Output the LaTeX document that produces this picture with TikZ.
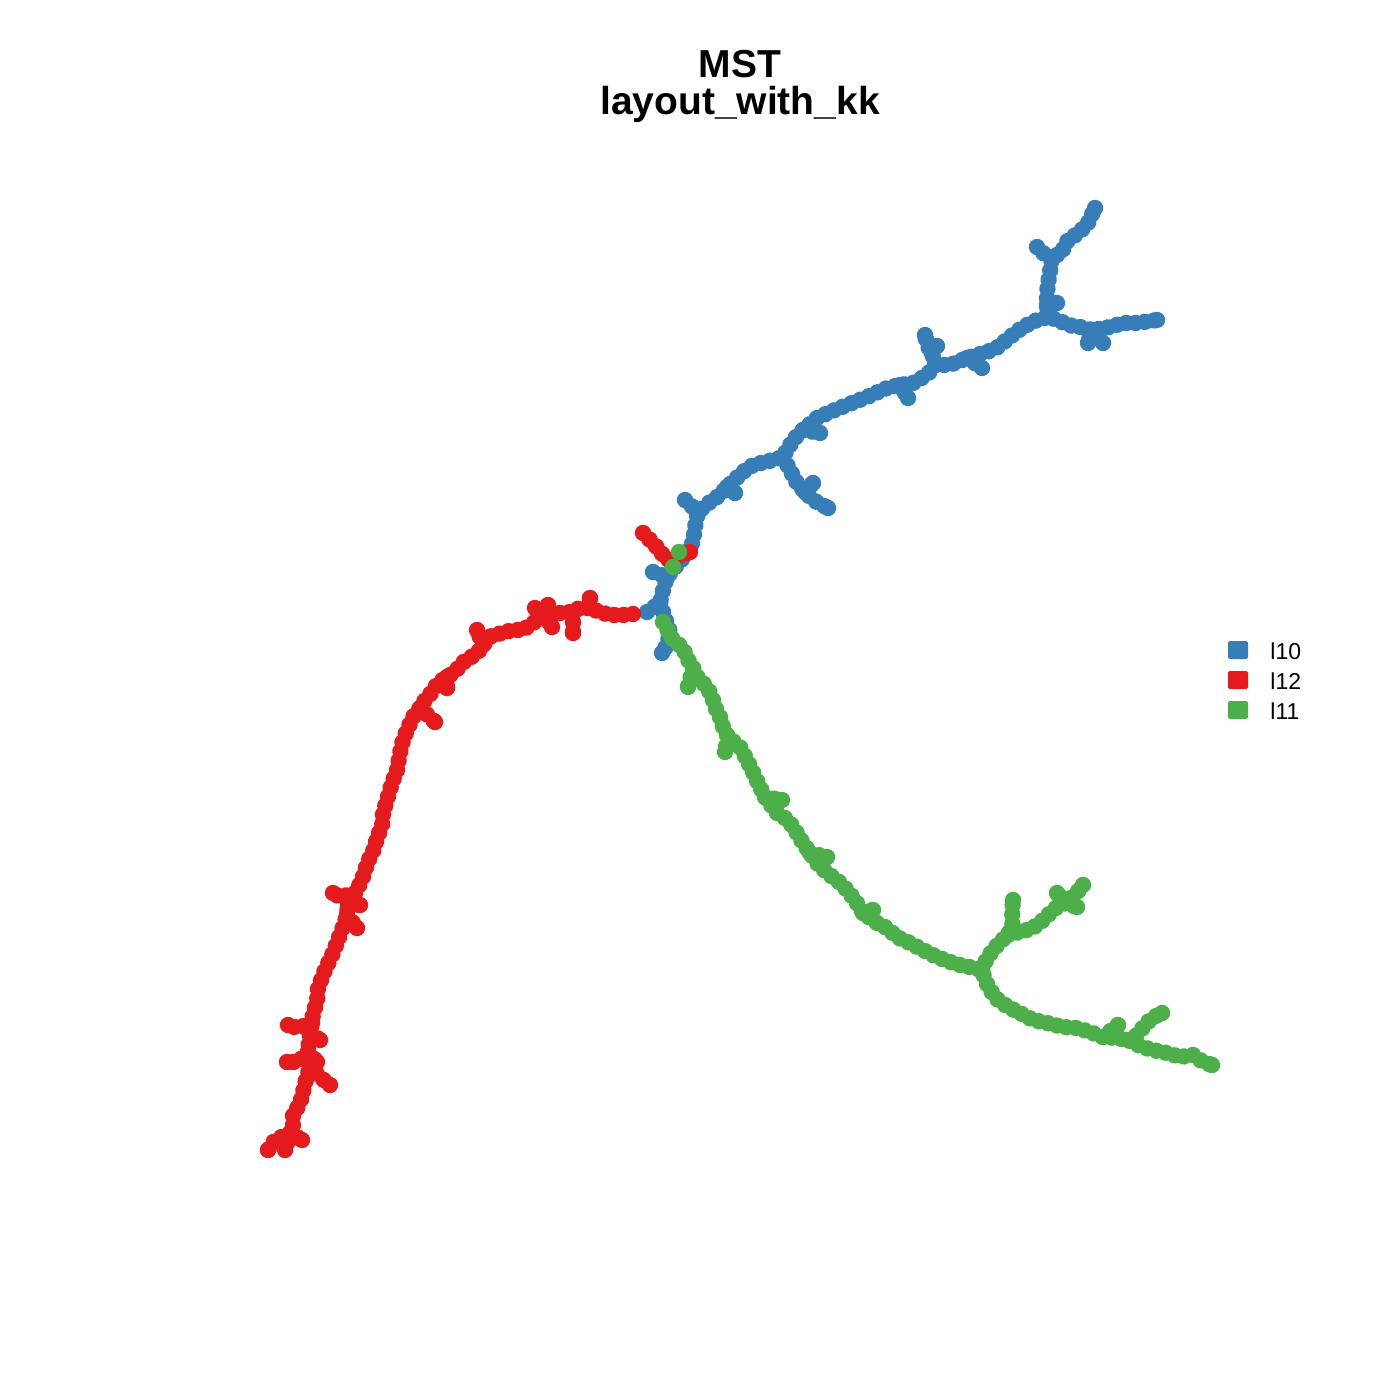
\documentclass[tikz,border=0pt]{standalone}
\usepackage{fontspec}
\setmainfont{Liberation Sans}
\usetikzlibrary{decorations.markings}
\definecolor{cblue}{HTML}{377EB8}
\definecolor{cred}{HTML}{E41A1C}
\definecolor{cgreen}{HTML}{4DAF4A}
\tikzset{
  bead/.style={line width=5.5pt, line cap=round, line join=round,
    decoration={markings,
      mark=between positions 0 and 1 step 4.7pt with {\fill circle[radius=4.1pt];},
      mark=at position 1 with {\fill circle[radius=4.1pt];}},
    postaction={decorate}},
  bb/.style={bead, color=cblue},
  rb/.style={bead, color=cred},
  gb/.style={bead, color=cgreen},
  legsq/.style={rounded corners=0.8pt},
  legtx/.style={anchor=west, font=\fontsize{11.5}{13}\selectfont, inner sep=0pt},
  ttl/.style={font=\bfseries\fontsize{19.5}{22}\selectfont, inner sep=0pt}
}
\begin{document}
\begin{tikzpicture}[x=0.5pt,y=-0.5pt]
\useasboundingbox (0,0) rectangle (1400,1400);
% title
\node[ttl] (t1) at (740,64) {MST};
\node[ttl] (t2) at (740,104) {layout\_with\_kk};
% ---------------- blue ----------------
\draw[bb] (647,612) -- (660,603) -- (663,590) -- (667,577) -- (683,558) -- (693,542) -- (695,527) -- (698,512) -- (710,502) -- (720,495) -- (727,487) -- (743,472) -- (753,465) -- (773,460) -- (783,457) -- (788,448) -- (795,438) -- (803,430) -- (817,418) -- (830,412) -- (847,405) -- (867,397) -- (887,388) -- (900,385) -- (913,383) -- (927,375) -- (935,365) -- (950,365) -- (967,358) -- (987,352) -- (998,347) -- (1010,337) -- (1023,327) -- (1037,320) -- (1048,317) -- (1058,320) -- (1068,325) -- (1080,327) -- (1092,330) -- (1110,327) -- (1123,323) -- (1137,323) -- (1157,320);
\draw[bb] (660,603) -- (665,618) -- (670,632) -- (667,645) -- (662,653);
\draw[bb] (653,572) -- (667,577);
\draw[bb] (685,500) -- (698,512);
\draw[bb] (727,487) -- (735,493);
\draw[bb] (783,457) -- (790,470) -- (797,483) -- (805,492) -- (813,500) -- (828,508);
\draw[bb] (805,492) -- (813,483);
\draw[bb] (803,430) -- (820,433);
\draw[bb] (900,385) -- (908,398);
\draw[bb] (935,365) -- (932,353) -- (927,345) -- (925,335);
\draw[bb] (932,353) -- (937,346);
\draw[bb] (967,358) -- (982,368);
\draw[bb] (1048,317) -- (1047,305) -- (1047,293) -- (1048,283) -- (1050,272) -- (1052,257) -- (1062,253) -- (1065,243) -- (1078,233) -- (1087,225) -- (1095,208);
\draw[bb] (1047,305) -- (1057,303);
\draw[bb] (1052,257) -- (1043,253) -- (1037,247);
\draw[bb] (1092,330) -- (1088,343);
\draw[bb] (1092,330) -- (1103,343);
% ---------------- red ----------------
\draw[rb] (643,533) -- (655,545) -- (667,560) -- (679,556) -- (690,552);
\draw[rb] (633,614) -- (623,615) -- (613,615) -- (602,613) -- (590,608) -- (580,608) -- (567,613) -- (557,613) -- (545,615) -- (533,623) -- (523,630) -- (512,630) -- (503,633) -- (492,635) -- (483,645) -- (478,652) -- (470,658) -- (462,663) -- (455,672) -- (447,677) -- (438,683) -- (432,692) -- (425,700) -- (420,708) -- (413,717) -- (408,728) -- (403,740) -- (400,753) -- (397,770) -- (392,783) -- (387,800) -- (383,813) -- (382,827) -- (377,837) -- (375,847) -- (370,857) -- (365,870) -- (362,880) -- (355,893) -- (348,903) -- (347,915) -- (343,927) -- (338,940) -- (333,953) -- (325,970) -- (318,988) -- (317,1002) -- (313,1013) -- (312,1023) -- (310,1033) -- (308,1052) -- (310,1067) -- (305,1083) -- (302,1097) -- (298,1107) -- (293,1113) -- (293,1125) -- (290,1133) -- (285,1150);
\draw[rb] (590,608) -- (590,598);
\draw[rb] (573,613) -- (573,623) -- (573,633);
\draw[rb] (545,615) -- (548,605);
\draw[rb] (545,615) -- (535,608);
\draw[rb] (545,615) -- (552,627);
\draw[rb] (483,645) -- (477,630);
\draw[rb] (447,677) -- (447,688);
\draw[rb] (420,708) -- (435,722);
\draw[rb] (355,893) -- (340,897) -- (333,893);
\draw[rb] (348,903) -- (360,905);
\draw[rb] (347,915) -- (357,928);
\draw[rb] (312,1023) -- (298,1028) -- (288,1025);
\draw[rb] (310,1033) -- (320,1040);
\draw[rb] (308,1052) -- (298,1062) -- (287,1062);
\draw[rb] (308,1052) -- (317,1062);
\draw[rb] (310,1067) -- (320,1077) -- (330,1085);
\draw[rb] (290,1133) -- (302,1140);
\draw[rb] (290,1133) -- (275,1140) -- (268,1150);
% ---------------- green ----------------
\fill[cgreen] (679,552) circle[radius=4.1pt];
\fill[cgreen] (673,567) circle[radius=4.1pt];
\draw[gb] (663,622) -- (673,640) -- (683,648) -- (687,658) -- (693,668) -- (698,678) -- (707,687) -- (712,697) -- (715,707) -- (720,717) -- (723,727) -- (728,737) -- (740,747) -- (747,760) -- (752,770) -- (758,783) -- (765,797) -- (777,813) -- (788,820) -- (795,830) -- (803,843) -- (810,853) -- (817,863) -- (827,873) -- (837,880) -- (847,890) -- (855,900) -- (863,913) -- (877,923) -- (887,928) -- (897,937) -- (910,943) -- (923,950) -- (937,957) -- (950,962) -- (960,965) -- (970,967) -- (982,970) -- (985,980) -- (990,990) -- (998,1000) -- (1008,1007) -- (1020,1013) -- (1033,1020) -- (1047,1023) -- (1063,1027) -- (1077,1028) -- (1090,1032) -- (1103,1037) -- (1117,1038) -- (1128,1040) -- (1142,1047) -- (1153,1050) -- (1167,1053) -- (1180,1057) -- (1193,1055) -- (1203,1062) -- (1212,1065);
\draw[gb] (693,668) -- (688,687);
\draw[gb] (728,737) -- (725,752);
\draw[gb] (765,797) -- (782,800);
\draw[gb] (810,853) -- (827,857);
\draw[gb] (863,913) -- (873,910);
\draw[gb] (982,970) -- (987,958) -- (993,950) -- (1000,942) -- (1008,935) -- (1013,922) -- (1012,912) -- (1013,900);
\draw[gb] (1008,935) -- (1027,930) -- (1038,925) -- (1048,915) -- (1057,907) -- (1065,903) -- (1075,895) -- (1083,885);
\draw[gb] (1065,903) -- (1057,893);
\draw[gb] (1065,903) -- (1077,907);
\draw[gb] (1103,1037) -- (1118,1025);
\draw[gb] (1128,1040) -- (1137,1035) -- (1145,1025) -- (1152,1018) -- (1162,1013);
% ---------------- legend ----------------
\fill[cblue, legsq] (1228,641) rectangle (1248,659);
\fill[cred, legsq] (1228,671) rectangle (1248,689);
\fill[cgreen, legsq] (1228,701) rectangle (1248,719);
\node[legtx] (l1) at (1270,651) {l10};
\node[legtx] (l2) at (1270,681) {l12};
\node[legtx] (l3) at (1270,711) {l11};
\end{tikzpicture}
\end{document}
